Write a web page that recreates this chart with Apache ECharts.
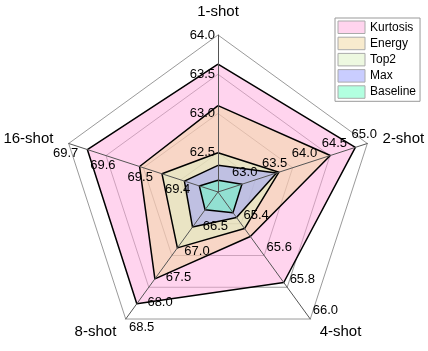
<!DOCTYPE html>
<html><head><meta charset="utf-8">
<script src="https://cdn.jsdelivr.net/npm/echarts@6/dist/echarts.min.js"></script>
<style>html,body{margin:0;padding:0;background:#fff}#c{width:428px;height:351px}</style>
</head><body><div id="c"></div>
<script>
// ---- data ----
const categories = ['1-shot', '2-shot', '4-shot', '8-shot', '16-shot'];
const axisMin = [62.0, 62.5, 65.2, 66.0, 69.3];
const axisMax = [64.0, 65.0, 66.0, 68.5, 69.7];
const axisTickCount = [4, 5, 4, 5, 4];
const seriesNames = ['Kurtosis', 'Energy', 'Top2', 'Max', 'Baseline'];
const kurtosis = [63.63, 64.80, 65.77, 68.20, 69.65];
const energy   = [63.10, 64.38, 65.48, 67.71, 69.51];
const top2     = [62.50, 63.52, 65.43, 67.10, 69.45];
const maxS     = [62.34, 63.48, 65.36, 66.69, 69.39];
const baseline = [62.15, 62.90, 65.33, 66.35, 69.35];
const seriesValues = [kurtosis, energy, top2, maxS, baseline];

// ---- styles ----
const seriesColors = ['rgba(255,169,221,0.5)', 'rgba(241,216,158,0.5)', 'rgba(220,242,194,0.5)', 'rgba(148,156,255,0.5)', 'rgba(101,255,194,0.5)'];
const labelLayout = [
  {align: 'right', verticalAlign: 'middle', margin: 3},
  {align: 'center', verticalAlign: 'middle', margin: 10},
  {align: 'left', verticalAlign: 'bottom', margin: 3},
  {align: 'left', verticalAlign: 'top', margin: 4},
  {align: 'center', verticalAlign: 'middle', margin: 10}
];
const FONT = 'Liberation Sans, Arial, sans-serif';
// clockwise order (ECharts lays indicators counter-clockwise)
const order = [0, 4, 3, 2, 1];

function indicators(tickCount) {
  return order.map(i => ({
    name: categories[i], min: axisMin[i], max: axisMax[i],
    axisLabel: Object.assign({show: tickCount != null && axisTickCount[i] === tickCount}, labelLayout[i])
  }));
}
const common = {center: [218, 192], radius: 157, shape: 'polygon', startAngle: 90};
const labelBase = {color: '#000', fontSize: 13, fontFamily: FONT, showMinLabel: false,
  formatter: v => Number(v).toFixed(1)};

const option = {
  animation: false,
  backgroundColor: '#fff',
  legend: {
    orient: 'vertical', left: 335, top: 18,
    itemWidth: 27, itemHeight: 12.5, itemGap: 2.7, padding: [2.5, 4, 2.5, 2.5],
    borderColor: '#999', borderWidth: 1, backgroundColor: '#fff', borderRadius: 0,
    icon: 'rect',
    textStyle: {fontSize: 12, fontFamily: FONT, color: '#000'},
    data: seriesNames.map((n, k) => ({name: n, icon: 'rect',
      itemStyle: {color: seriesColors[k], borderColor: '#aaa', borderWidth: 1}}))
  },
  radar: [
    Object.assign({}, common, {
      z: 0, splitNumber: 4, indicator: indicators(null),
      axisName: {show: false}, axisLine: {show: false}, axisTick: {show: false},
      axisLabel: Object.assign({}, labelBase, {show: false}),
      splitLine: {lineStyle: {color: '#9a9a9a', width: 1}}, splitArea: {show: false}
    }),
    Object.assign({}, common, {
      z: 10, splitNumber: 4, indicator: indicators(4),
      axisName: {show: true, color: '#000', fontSize: 15, fontFamily: FONT}, nameGap: 16,
      axisLine: {show: true, lineStyle: {color: '#555', width: 1}}, axisTick: {show: false},
      axisLabel: labelBase,
      splitLine: {show: false}, splitArea: {show: false}
    }),
    Object.assign({}, common, {
      z: 10, splitNumber: 5, indicator: indicators(5),
      axisName: {show: false}, axisLine: {show: false}, axisTick: {show: false},
      axisLabel: labelBase,
      splitLine: {show: false}, splitArea: {show: false}
    })
  ],
  series: [{
    type: 'radar', radarIndex: 0, z: 2, symbol: 'none', silent: true,
    data: seriesNames.map((n, k) => ({
      name: n,
      value: order.map(i => seriesValues[k][i]),
      itemStyle: {color: seriesColors[k]},
      lineStyle: {width: 0, opacity: 0},
      areaStyle: {color: seriesColors[k], opacity: 1}
    }))
  }, {
    type: 'radar', radarIndex: 0, z: 3, symbol: 'none', silent: true,
    data: seriesNames.map((n, k) => ({
      name: n,
      value: order.map(i => seriesValues[k][i]),
      itemStyle: {color: seriesColors[k]},
      lineStyle: {color: '#000', width: 1.5}
    }))
  }]
};
const chart = echarts.init(document.getElementById('c'), null, {renderer: 'canvas'});
chart.setOption(option);
</script></body></html>
